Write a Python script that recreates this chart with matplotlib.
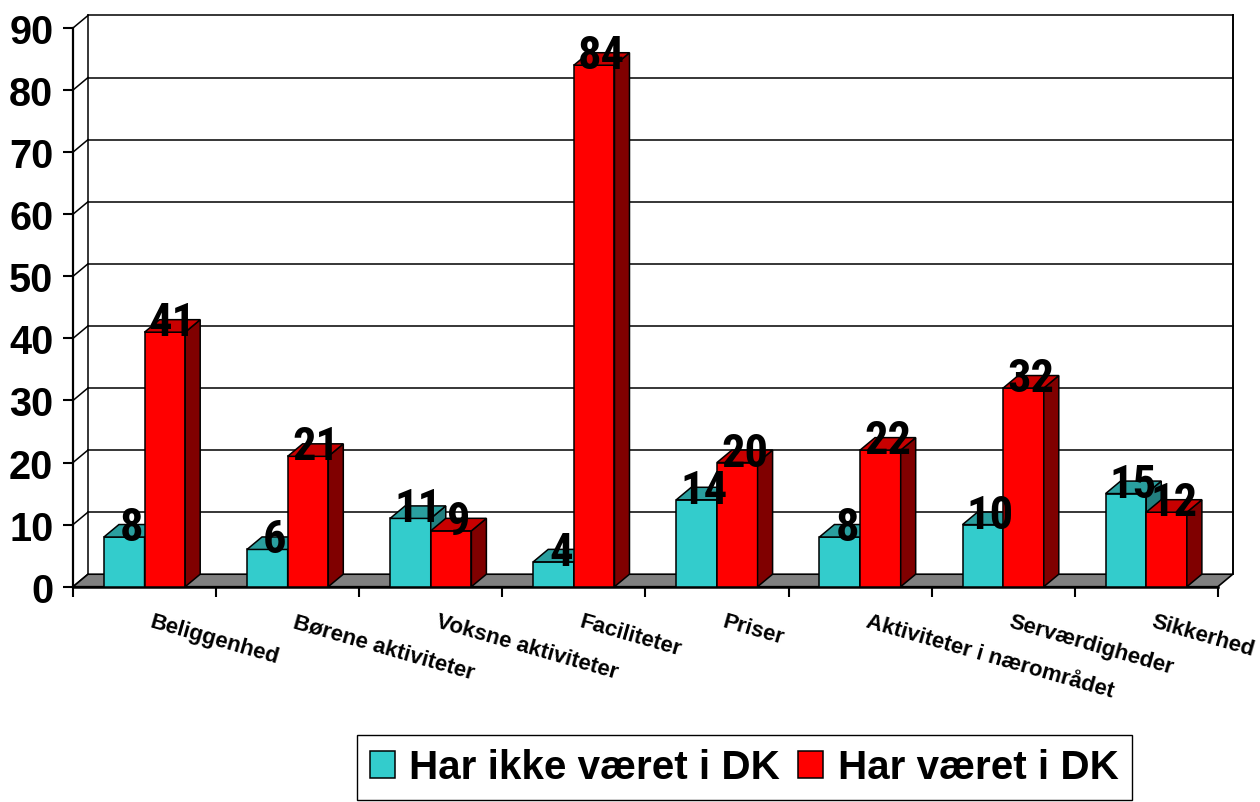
import numpy as np
import matplotlib
matplotlib.use('Agg')
import matplotlib.pyplot as plt
from matplotlib.patches import Polygon

# ---------------- data ----------------
categories = ['Beliggenhed', 'Børene aktiviteter', 'Voksne aktiviteter', 'Faciliteter',
              'Priser', 'Aktiviteter i nærområdet', 'Serværdigheder', 'Sikkerhed']
series_names = ['Har ikke været i DK', 'Har været i DK']
har_ikke_vaeret = [8, 6, 11, 4, 14, 8, 10, 15]
har_vaeret = [41, 21, 9, 84, 20, 22, 32, 12]
yticks = [0, 10, 20, 30, 40, 50, 60, 70, 80, 90]

# ---------------- styling ----------------
front_cols = ['#33CCCC', '#FF0000']
top_cols = ['#2A9F9F', '#C80000']
side_cols = ['#237F7F', '#800000']
FONT = 'Liberation Sans'
NARROW = ['Liberation Sans Narrow', 'Roboto Condensed', 'Liberation Sans']

W, H = 1260, 803
fig = plt.figure(figsize=(W / 100, H / 100), dpi=100)

px_per_cat = 143.1
px_per_unit = 6.208
dx_px, dy_px = 15.0, 12.5
dx = dx_px / px_per_cat
dy = dy_px / px_per_unit
ncat = len(categories)
ytop = yticks[-1]
xmax = ncat + dx
ymax = ytop + dy
left_px, bottom_px = 73.0, 587.7

ax = fig.add_axes([left_px / W, (H - bottom_px) / H,
                   xmax * px_per_cat / W, ymax * px_per_unit / H])
ax.set_xlim(0, xmax)
ax.set_ylim(0, ymax)
for s in ax.spines.values():
    s.set_visible(False)
ax.patch.set_visible(False)

# y axis ticks / labels
ax.set_yticks(yticks)
ax.set_yticklabels([str(v) for v in yticks], fontsize=28.5, fontweight='bold', family=FONT)
ax.tick_params(axis='y', length=7.2, width=1.5, pad=7, direction='out', colors='black')
# x axis ticks at category boundaries
ax.set_xticks(np.arange(ncat + 1))
ax.set_xticklabels([])
ax.tick_params(axis='x', length=7.2, width=1.5, direction='out')

lw_grid = 1.1
# back wall gridlines and frame
for v in yticks[1:]:
    ax.plot([dx, xmax], [v + dy, v + dy], color='black', lw=lw_grid, zorder=0.5, clip_on=False)
for v in yticks:
    ax.plot([0, dx], [v, v + dy], color='black', lw=lw_grid, zorder=0.5, clip_on=False)
ax.plot([dx, dx], [dy, ytop + dy], color='black', lw=lw_grid, zorder=0.5, clip_on=False)
ax.plot([xmax, xmax], [dy, ytop + dy], color='black', lw=1.4, zorder=0.5, clip_on=False)
# front left axis
ax.plot([0, 0], [0, ytop], color='black', lw=1.6, zorder=3, clip_on=False)

# floor
floor = Polygon([(0, 0), (ncat, 0), (xmax, dy), (dx, dy)], closed=True,
                facecolor='#808080', edgecolor='black', lw=1.2, zorder=1.5)
ax.add_patch(floor)
ax.plot([0, ncat], [0, 0], color='black', lw=1.8, zorder=1.6, clip_on=False)

# bars
x = np.arange(ncat)
bw = 0.284
containers = []
for si, vals in enumerate([har_ikke_vaeret, har_vaeret]):
    left = x + 0.5 - bw + si * bw
    bc = ax.bar(left, vals, width=bw, align='edge', color=front_cols[si],
                edgecolor='black', linewidth=1.1, zorder=3 + 2 * si)
    containers.append(bc)
    for rect in bc:
        x0 = rect.get_x()
        x1 = x0 + rect.get_width()
        h = rect.get_height()
        top = Polygon([(x0, h), (x1, h), (x1 + dx, h + dy), (x0 + dx, h + dy)], closed=True,
                      facecolor=top_cols[si], edgecolor='black', lw=1.1, zorder=3.5 + 2 * si)
        side = Polygon([(x1, 0), (x1 + dx, dy), (x1 + dx, h + dy), (x1, h)], closed=True,
                       facecolor=side_cols[si], edgecolor='black', lw=1.1, zorder=3.5 + 2 * si)
        ax.add_patch(side)
        ax.add_patch(top)
        ax.text(x0 + rect.get_width() / 2 + dx * 0.5, h + dy * 0.5 + 0.6, str(int(h)),
                ha='center', va='center', fontsize=33.5, fontweight='bold',
                family=NARROW, color='black', zorder=10)

# category labels
for i, cat in enumerate(categories):
    ax.annotate(cat, (x[i] + 0.5, 0), xytext=(9, -24), textcoords='offset pixels',
                rotation=-16, rotation_mode='anchor', ha='left', va='top',
                fontsize=16, fontweight='bold', family=FONT, annotation_clip=False)

# legend
leg = fig.legend(containers, series_names, loc='upper left',
                 bbox_to_anchor=(356.7 / W, (H - 736) / H), ncol=2,
                 prop=dict(family=FONT, weight='bold', size=29.1),
                 frameon=True, fancybox=False, edgecolor='black', framealpha=1,
                 borderpad=0.33, handlelength=0.62, handleheight=0.66,
                 handletextpad=0.35, columnspacing=0.45, borderaxespad=0)
leg.get_frame().set_linewidth(1.0)

fig.savefig('out.png', dpi=100)
